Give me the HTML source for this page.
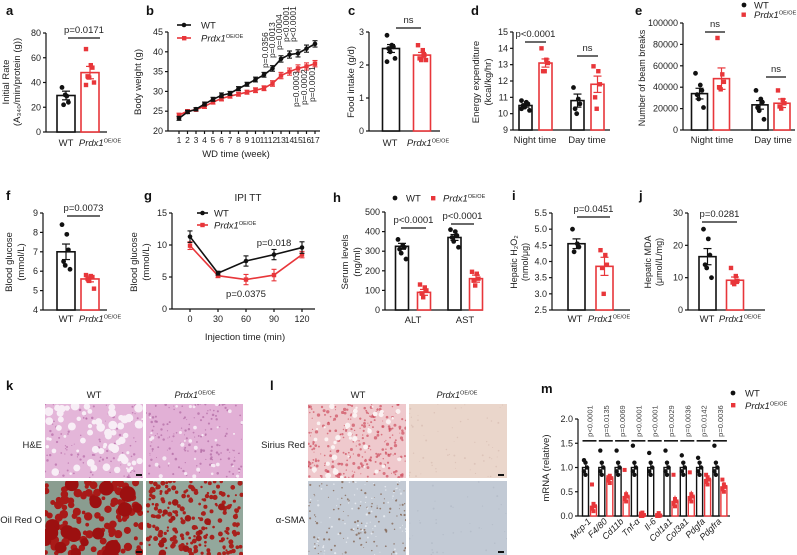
<!DOCTYPE html>
<html><head><meta charset="utf-8"><style>
html,body{margin:0;padding:0;background:#fff;}
svg{display:block;font-family:"Liberation Sans",Arial,sans-serif;}
</style></head><body>
<svg id="fig" width="797" height="555" viewBox="0 0 797 555" xmlns="http://www.w3.org/2000/svg"></svg>
<script>
// ---------- data ----------
const aMeans=[29.5,48]; const aSem=[3.5,5];
const aWT=[36,29,24,22,30]; const aKO=[67,54,52,45,44,40,38];
const bWeeks=[1,2,3,4,5,6,7,8,9,10,11,12,13,14,15,16,17];
const bWT=[23.2,24.8,25.5,26.8,28,29,29.5,30.7,31.8,33,34.2,35.8,38.2,39.3,39.6,40.8,42];
const bKO=[24,25,25.4,26.2,27.3,28.2,28.8,29.3,29.8,30.3,30.8,32,34,35,35.8,36.3,37];
const bErr=[0.5,0.4,0.4,0.5,0.5,0.6,0.5,0.5,0.5,0.6,0.6,0.7,0.8,0.9,0.9,0.9,0.8];
const bPblack=["p=0.0356","p=0.0013","p=0.0004","p<0.0001","p<0.0001"];
const bPred=["p=0.0003","p=0.0002","p=0.0001"];
const cMeans=[2.5,2.3]; const cSem=[0.12,0.08];
const cWT=[2.9,2.6,2.55,2.5,2.4,2.2,2.1]; const cKO=[2.6,2.45,2.3,2.2,2.15,2.15];
const dMeans=[10.5,13.1,10.8,11.8]; const dSem=[0.1,0.25,0.4,0.5];
const dPts=[[10.8,10.7,10.6,10.5,10.4,10.2,10.3],[14.0,13.3,13.1,12.6,12.6],[11.6,10.9,10.6,10.3,10.0],[12.9,12.6,11.8,11.0,10.3]];
const eMeans=[34000,48000,23500,25000]; const eSem=[5000,10000,4000,4000];
const ePts=[[53000,42000,37000,33000,29000,21000],[86000,52000,45000,40000,38000],[37000,29000,26000,21000,18000,10000],[37000,28000,25000,22000,20000]];
const fMeans=[7.0,5.6]; const fSem=[0.4,0.15];
const fWT=[8.4,7.9,7.1,6.5,6.3,6.1]; const fKO=[5.8,5.75,5.7,5.6,5.5,5.1];
const gTimes=[0,30,60,90,120];
const gWT=[11.3,5.6,7.5,8.5,9.6]; const gKO=[9.9,5.2,4.6,5.3,8.5];
const gWTerr=[0.9,0.3,0.8,0.8,0.9]; const gKOerr=[0.6,0.3,0.8,0.9,0.5];
const hMeans=[325,90,370,160]; const hSem=[15,15,15,18];
const hPts=[[360,330,320,310,290,260],[130,115,100,85,65],[410,400,380,370,350,320],[195,185,160,150,125]];
const iMeans=[4.55,3.85]; const iSem=[0.15,0.28];
const iWT=[5.0,4.55,4.45,4.3]; const iKO=[4.35,4.2,3.9,3.8,3.0];
const jMeans=[16.5,9.2]; const jSem=[2.5,1];
const jWT=[25,22,17,14,13,10]; const jKO=[13,10.5,9,8.5,8];
const mGenes=["Mcp-1","F4/80","Cd11b","Tnf-α","Il-6","Col1a1","Col3a1","Pdgfa","Pdgfra"];
const mP=["p<0.0001","p=0.0135","p=0.0069","p<0.0001","p<0.0001","p=0.0029","p=0.0036","p=0.0142","p=0.0036"];
const mWTmean=[1.0,1.0,1.0,1.0,1.0,1.0,1.0,1.0,1.0];
const mKOmean=[0.2,0.78,0.4,0.02,0.01,0.3,0.4,0.75,0.6];
const mWTsem=[0.05,0.1,0.1,0.1,0.1,0.1,0.1,0.1,0.1];
const mKOsem=[0.08,0.06,0.12,0.01,0.005,0.12,0.12,0.08,0.1];
const mWTmax=[1.15,1.35,1.35,1.45,1.3,1.35,1.25,1.2,1.45];
const mKOmax=[0.65,0.8,0.95,0.05,0.02,0.85,0.9,0.85,0.75];

// ---------- helpers ----------
const NS="http://www.w3.org/2000/svg";
const svg=document.getElementById('fig');
const RED="#e8363a";
function mk(tag,attrs,name,parent){
  const e=document.createElementNS(NS,tag);
  for(const k in attrs) e.setAttribute(k,attrs[k]);
  
  
  (parent||svg).appendChild(e);
  return e;
}
function txt(x,y,s,name,o){
  o=o||{};
  const t=mk('text',{x:x,y:y,'font-size':o.fs||9,'text-anchor':o.anchor||'middle',fill:o.fill||'#222','font-weight':o.fw||'normal','font-style':o.fi||'normal'},name);
  if(o.rot!==undefined) t.setAttribute('transform','rotate('+o.rot+' '+x+' '+y+')');
  t.textContent=s;
  return t;
}
function prdx(x,y,name,o){
  o=o||{};
  const t=mk('text',{x:x,y:y,'font-size':o.fs||9.5,'text-anchor':o.anchor||'middle',fill:'#222'},name);
  const a=mk('tspan',{'font-style':'italic'},name+'-gene',t); a.textContent='Prdx1';
  const b=mk('tspan',{'font-size':5.5,dy:-3.5},name+'-sup',t); b.textContent='OE/OE';
  return t;
}
function line(x1,y1,x2,y2,name,c,w){return mk('line',{x1:x1,y1:y1,x2:x2,y2:y2,stroke:c||'#111','stroke-width':w||1.2},name);}
function letter(x,y,s){txt(x,y,s,'panel-label-'+s,{fs:13,fw:'bold',anchor:'start',fill:'#111'});}
function scale(v0,v1,p0,p1){return v=>p0+(v-v0)*(p1-p0)/(v1-v0);}
function axes(ax,xEnd,yTop,yBot,ticks,sy,fmt,pfx){
  line(ax,yTop,ax,yBot,pfx+'-y-axis');
  line(ax,yBot,xEnd,yBot,pfx+'-x-axis');
  ticks.forEach(t=>{const y=sy(t);line(ax-3,y,ax,y,pfx+'-y-tick');txt(ax-5,y+3,fmt?fmt(t):String(t),pfx+'-y-tick-label',{anchor:'end',fs:9});});
}
function bar(cx,w,mean,sem,sy,yBot,color,pts,pfx,isSq){
  mk('rect',{x:cx-w/2,y:sy(mean),width:w,height:yBot-sy(mean),fill:'#fff',stroke:color,'stroke-width':1.6},pfx+'-bar');
  line(cx,sy(mean+sem),cx,sy(mean-sem),pfx+'-error-bar',color,1.2);
  line(cx-4,sy(mean+sem),cx+4,sy(mean+sem),pfx+'-error-cap',color,1.2);
  line(cx-4,sy(mean-sem),cx+4,sy(mean-sem),pfx+'-error-cap',color,1.2);
  pts.forEach((v,i)=>{
    const dx=((i%3)-1)*3.2+(i%2?1:-1)*0.8;
    if(isSq) mk('rect',{x:cx+dx-2.2,y:sy(v)-2.2,width:4.4,height:4.4,fill:color},pfx+'-point');
    else mk('circle',{cx:cx+dx,cy:sy(v),r:2.4,fill:color},pfx+'-point');
  });
}
function sig(x1,x2,y,label,name){line(x1,y,x2,y,name+'-line');txt((x1+x2)/2,y-5,label,name,{fs:9.5});}

// ---------- panel a ----------
letter(6,15,'a');
let sy=scale(0,80,132,33);
axes(46,107,33,132,[0,20,40,60,80],sy,null,'a');
bar(66,18,aMeans[0],aSem[0],sy,132,'#111',aWT,'a-wt',false);
bar(90,18,aMeans[1],aSem[1],sy,132,RED,aKO,'a-prdx1',true);
sig(68,100,38,'p=0.0171','a-pvalue');
txt(66,146,'WT','a-x-label-wt',{fs:9.5}); prdx(100,146,'a-x-label-prdx1');
txt(9,82,'Initial Rate','a-y-title',{rot:-90,fs:9.5});
txt(20,82,'(A₃₄₀/min/protein (g))','a-y-title-unit',{rot:-90,fs:9.5});

// ---------- panel b ----------
letter(146,15,'b');
sy=scale(20,45,131,32);
const sxb=scale(1,17,179,315);
axes(168,320,32,131,[20,25,30,35,40,45],sy,null,'b');
bWeeks.forEach(w=>{line(sxb(w),131,sxb(w),134,'b-x-tick');txt(sxb(w),143,String(w),'b-x-tick-label',{fs:8.5});});
function series(xs,ys,errs,sx,sy,color,pfx,sq){
  mk('polyline',{points:xs.map((x,i)=>sx(x)+','+sy(ys[i])).join(' '),fill:'none',stroke:color,'stroke-width':1.6},pfx+'-line');
  xs.forEach((x,i)=>{
    const X=sx(x);
    line(X,sy(ys[i]+errs[i]),X,sy(ys[i]-errs[i]),pfx+'-error-bar',color,1.1);
    line(X-2.5,sy(ys[i]+errs[i]),X+2.5,sy(ys[i]+errs[i]),pfx+'-error-cap',color,1.1);
    line(X-2.5,sy(ys[i]-errs[i]),X+2.5,sy(ys[i]-errs[i]),pfx+'-error-cap',color,1.1);
    if(sq) mk('rect',{x:X-2.2,y:sy(ys[i])-2.2,width:4.4,height:4.4,fill:color},pfx+'-point');
    else mk('circle',{cx:X,cy:sy(ys[i]),r:2.3,fill:color},pfx+'-point');
  });
}
series(bWeeks,bKO,bErr,sxb,sy,RED,'b-prdx1',true);
series(bWeeks,bWT,bErr,sxb,sy,'#111','b-wt',false);
const bpx=[268,275,282,289,296]; const bpy=[68,58,50,42,42];
bPblack.forEach((p,i)=>txt(bpx[i],bpy[i],p,'b-pvalue-wt',{rot:-90,anchor:'start',fs:8.5}));
const rpx=[299,307,315]; const rpy=[107,105,102];
bPred.forEach((p,i)=>txt(rpx[i],rpy[i],p,'b-pvalue-prdx1',{rot:-90,anchor:'start',fs:8.5}));
line(177,25,191,25,'b-legend-wt-line','#111',1.6); mk('circle',{cx:184,cy:25,r:2.3,fill:'#111'},'b-legend-wt-marker');
txt(201,28.5,'WT','b-legend-wt',{anchor:'start',fs:9.5});
line(177,38,191,38,'b-legend-prdx1-line',RED,1.6); mk('rect',{x:182,y:36,width:4.4,height:4.4,fill:RED},'b-legend-prdx1-marker');
prdx(201,41.5,'b-legend-prdx1',{anchor:'start'});
txt(236,157,'WD time (week)','b-x-title',{fs:9.5});
txt(141,82,'Body weight (g)','b-y-title',{rot:-90,fs:9.5});

// ---------- panel c ----------
letter(348,15,'c');
sy=scale(0,3,131,32);
axes(369,440,32,131,[0,1,2,3],sy,null,'c');
bar(391,17,cMeans[0],cSem[0],sy,131,'#111',cWT,'c-wt',false);
bar(422,17,cMeans[1],cSem[1],sy,131,RED,cKO,'c-prdx1',true);
sig(396,421,28,'ns','c-pvalue');
txt(390,146,'WT','c-x-label-wt',{fs:9.5}); prdx(428,146,'c-x-label-prdx1');
txt(354,82,'Food intake (g/d)','c-y-title',{rot:-90,fs:9.5});

// ---------- panel d ----------
letter(471,15,'d');
sy=scale(9,15,130,32);
axes(513,610,32,130,[9,10,11,12,13,14,15],sy,null,'d');
const dCx=[525.5,545.5,577.5,597.5];
dCx.forEach((cx,i)=>bar(cx,13,dMeans[i],dSem[i],sy,130,i%2?RED:'#111',dPts[i],i%2?'d-prdx1':'d-wt',i%2==1));
sig(525,546,42,'p<0.0001','d-pvalue-night'); sig(577,598,56,'ns','d-pvalue-day');
txt(535,143,'Night time','d-x-label-night',{fs:9.5}); txt(587,143,'Day time','d-x-label-day',{fs:9.5});
txt(479,82,'Energy expenditure','d-y-title',{rot:-90,fs:9.5});
txt(491,82,'(kcal/kg/hr)','d-y-title-unit',{rot:-90,fs:9.5});

// ---------- panel e ----------
letter(635,15,'e');
sy=scale(0,100000,130,23);
axes(683,795,23,130,[0,20000,40000,60000,80000,100000],sy,null,'e');
const eCx=[699.5,721.5,760,782];
eCx.forEach((cx,i)=>bar(cx,16,eMeans[i],eSem[i],sy,130,i%2?RED:'#111',ePts[i],i%2?'e-prdx1':'e-wt',i%2==1));
sig(705,725,32,'ns','e-pvalue-night'); sig(766,786,77,'ns','e-pvalue-day');
txt(712,143,'Night time','e-x-label-night',{fs:9.5}); txt(773,143,'Day time','e-x-label-day',{fs:9.5});
txt(645,78,'Number of beam breaks','e-y-title',{rot:-90,fs:9});
mk('circle',{cx:744,cy:5,r:2.4,fill:'#111'},'e-legend-wt-marker'); txt(754,8.5,'WT','e-legend-wt',{anchor:'start',fs:9.5});
mk('rect',{x:741.5,y:12.5,width:4.4,height:4.4,fill:RED},'e-legend-prdx1-marker'); prdx(754,18,'e-legend-prdx1',{anchor:'start'});

// ---------- panel f ----------
letter(6,200,'f');
sy=scale(4,9,310,213);
axes(43,107,213,310,[4,5,6,7,8,9],sy,null,'f');
bar(66,18,fMeans[0],fSem[0],sy,310,'#111',fWT,'f-wt',false);
bar(90,18,fMeans[1],fSem[1],sy,310,RED,fKO,'f-prdx1',true);
sig(67,100,216,'p=0.0073','f-pvalue');
txt(66,322,'WT','f-x-label-wt',{fs:9.5}); prdx(100,322,'f-x-label-prdx1');
txt(12,262,'Blood glucose','f-y-title',{rot:-90,fs:9.5});
txt(24,262,'(mmol/L)','f-y-title-unit',{rot:-90,fs:9.5});

// ---------- panel g ----------
letter(144,200,'g');
txt(248,201,'IPI TT','g-title',{fs:10});
sy=scale(0,15,309,213);
const sxg=scale(0,120,190,302);
axes(172,315,213,309,[0,5,10,15],sy,null,'g');
gTimes.forEach(t=>{line(sxg(t),309,sxg(t),312,'g-x-tick');txt(sxg(t),322,String(t),'g-x-tick-label',{fs:9});});
series(gTimes,gKO,gKOerr,sxg,sy,RED,'g-prdx1',true);
series(gTimes,gWT,gWTerr,sxg,sy,'#111','g-wt',false);
txt(274,246,'p=0.018','g-pvalue-90',{fs:9.5}); txt(246,297,'p=0.0375','g-pvalue-60',{fs:9.5});
line(197,213,208,213,'g-legend-wt-line','#111',1.6); mk('circle',{cx:202.5,cy:213,r:2.3,fill:'#111'},'g-legend-wt-marker');
txt(214,216.5,'WT','g-legend-wt',{anchor:'start',fs:9.5});
line(197,225,208,225,'g-legend-prdx1-line',RED,1.6); mk('rect',{x:200.3,y:222.8,width:4.4,height:4.4,fill:RED},'g-legend-prdx1-marker');
prdx(214,228.5,'g-legend-prdx1',{anchor:'start'});
txt(245,340,'Injection time (min)','g-x-title',{fs:9.5});
txt(137,262,'Blood glucose','g-y-title',{rot:-90,fs:9.5});
txt(149,262,'(mmol/L)','g-y-title-unit',{rot:-90,fs:9.5});

// ---------- panel h ----------
letter(333,202,'h');
sy=scale(0,500,310,212);
axes(385,483,212,310,[0,100,200,300,400,500],sy,null,'h');
const hCx=[402,424,454.5,476];
hCx.forEach((cx,i)=>bar(cx,13,hMeans[i],hSem[i],sy,310,i%2?RED:'#111',hPts[i],i%2?'h-prdx1':'h-wt',i%2==1));
sig(401,426,228,'p<0.0001','h-pvalue-alt'); sig(451,474,224,'p<0.0001','h-pvalue-ast');
txt(413,323,'ALT','h-x-label-alt',{fs:9.5}); txt(465,323,'AST','h-x-label-ast',{fs:9.5});
txt(348,262,'Serum levels','h-y-title',{rot:-90,fs:9.5});
txt(360,262,'(ng/ml)','h-y-title-unit',{rot:-90,fs:9.5});
mk('circle',{cx:395,cy:198,r:2.4,fill:'#111'},'h-legend-wt-marker'); txt(406,201.5,'WT','h-legend-wt',{anchor:'start',fs:9.5});
mk('rect',{x:431,y:196,width:4.4,height:4.4,fill:RED},'h-legend-prdx1-marker'); prdx(443,201.5,'h-legend-prdx1',{anchor:'start'});

// ---------- panel i ----------
letter(512,200,'i');
sy=scale(2.5,5.5,310,213);
axes(552,630,213,310,[2.5,3.0,3.5,4.0,4.5,5.0,5.5],sy,v=>v.toFixed(1),'i');
bar(576.5,17,iMeans[0],iSem[0],sy,310,'#111',iWT,'i-wt',false);
bar(604.5,17,iMeans[1],iSem[1],sy,310,RED,iKO,'i-prdx1',true);
sig(577,610,217,'p=0.0451','i-pvalue');
txt(575,322,'WT','i-x-label-wt',{fs:9.5}); prdx(609,322,'i-x-label-prdx1');
txt(517,262,'Hepatic H₂O₂','i-y-title',{rot:-90,fs:9});
txt(528,262,'(nmol/μg)','i-y-title-unit',{rot:-90,fs:9});

// ---------- panel j ----------
letter(639,200,'j');
sy=scale(0,30,310,213);
axes(688,765,213,310,[0,10,20,30],sy,null,'j');
bar(707.5,17,jMeans[0],jSem[0],sy,310,'#111',jWT,'j-wt',false);
bar(735,17,jMeans[1],jSem[1],sy,310,RED,jKO,'j-prdx1',true);
sig(702,737,222,'p=0.0281','j-pvalue');
txt(707,322,'WT','j-x-label-wt',{fs:9.5}); prdx(740,322,'j-x-label-prdx1');
txt(651,262,'Hepatic MDA','j-y-title',{rot:-90,fs:9});
txt(662,262,'(μmol/L/mg)','j-y-title-unit',{rot:-90,fs:9});

// ---------- histology images ----------
let seed=7; function rnd(){seed=(seed*16807)%2147483647;return seed/2147483647;}
function tissue(x,y,w,h,bg,spots,name){
  const g=mk('g',{},name);
  const cid='clip'+name;
  const cp=mk('clipPath',{id:cid},name+'-clip',g);
  mk('rect',{x:x,y:y,width:w,height:h},name+'-clip-rect',cp);
  const inner=mk('g',{'clip-path':'url(#'+cid+')'},name+'-content',g);
  mk('rect',{x:x,y:y,width:w,height:h,fill:bg},name+'-background',inner);
  spots.forEach(s=>{for(let i=0;i<s.n;i++){
    const r=s.r0+rnd()*s.r1;
    mk('circle',{cx:x+rnd()*w,cy:y+rnd()*h,r:r,fill:s.c,opacity:s.o||1},name+'-texture',inner);
  }});
  return g;
}
const r1y=404,r1h=74,r2y=481,r2h=74;
tissue(45,r1y,98,r1h,'#e4b6d9',[{n:120,r0:0.5,r1:0.8,c:'#b56aa6',o:0.7},{n:70,r0:1,r1:3.5,c:'#f8eef6'}],'he-wt-image');
tissue(146,r1y,97,r1h,'#e2b0d6',[{n:160,r0:0.5,r1:0.8,c:'#b06aa3',o:0.7},{n:35,r0:0.8,r1:1.5,c:'#f6e8f3'}],'he-prdx1-image');
tissue(45,r2y,98,r2h,'#8a9d90',[{n:120,r0:1.8,r1:2.5,c:'#a81a18'},{n:18,r0:4,r1:4,c:'#9c1010'}],'oilredo-wt-image');
tissue(146,r2y,97,r2h,'#93a89c',[{n:200,r0:1.0,r1:1.6,c:'#a8201c'},{n:12,r0:2.5,r1:1.5,c:'#a01816'}],'oilredo-prdx1-image');
tissue(308,r1y,98,r1h,'#efc9cd',[{n:260,r0:0.5,r1:1.2,c:'#c83a4c',o:0.6},{n:40,r0:1,r1:2,c:'#fbf2f2'}],'siriusred-wt-image');
tissue(409,r1y,98,r1h,'#ead6cb',[{n:60,r0:0.4,r1:0.6,c:'#d4b8ae',o:0.6}],'siriusred-prdx1-image');
tissue(308,r2y,98,r2h,'#c3cad4',[{n:120,r0:0.4,r1:0.8,c:'#7c5a44',o:0.7},{n:80,r0:0.4,r1:0.8,c:'#e4e8ee'}],'asma-wt-image');
tissue(409,r2y,98,r2h,'#c2cad5',[{n:40,r0:0.4,r1:0.6,c:'#adb6c3',o:0.6}],'asma-prdx1-image');
[[136,474],[136,551],[498,474],[498,551]].forEach(p=>mk('rect',{x:p[0],y:p[1],width:6,height:2,fill:'#111'},'scale-bar'));
letter(6,390,'k'); letter(270,390,'l');
txt(94,398,'WT','k-col-wt',{fs:9.5}); prdx(195,398,'k-col-prdx1',{fs:9});
txt(42,448,'H&E','k-row-he',{anchor:'end',fs:9.5}); txt(42,523,'Oil Red O','k-row-oilredo',{anchor:'end',fs:9.5});
txt(358,398,'WT','l-col-wt',{fs:9.5}); prdx(457,398,'l-col-prdx1',{fs:9});
txt(305,448,'Sirius Red','l-row-siriusred',{anchor:'end',fs:9.5}); txt(305,523,'α-SMA','l-row-asma',{anchor:'end',fs:9.5});

// ---------- panel m ----------
letter(541,393,'m');
sy=scale(0,2,516,419);
axes(578,730,419,516,[0,0.5,1.0,1.5,2.0],sy,v=>v.toFixed(1),'m');
const sxm=i=>589.5+i*16.3;
mGenes.forEach((g,i)=>{
  const cx=sxm(i);
  const wp=[mWTmax[i],mWTmean[i]+0.1,mWTmean[i],mWTmean[i]-0.08,mWTmean[i]-0.15];
  const kp=[mKOmax[i],mKOmean[i]+0.05,mKOmean[i],Math.max(0,mKOmean[i]-0.05),Math.max(0,mKOmean[i]-0.1)];
  mk('rect',{x:cx-7,y:sy(mWTmean[i]),width:6,height:516-sy(mWTmean[i]),fill:'#fff',stroke:'#111','stroke-width':1.4},'m-wt-bar');
  line(cx-4,sy(mWTmean[i]+mWTsem[i]),cx-4,sy(mWTmean[i]-mWTsem[i]),'m-wt-error-bar','#111',1);
  wp.forEach((v,k)=>mk('circle',{cx:cx-4+((k%3)-1)*1.5,cy:sy(v),r:2.2,fill:'#111'},'m-wt-point'));
  mk('rect',{x:cx+1,y:sy(mKOmean[i]),width:6,height:Math.max(0.5,516-sy(mKOmean[i])),fill:'#fff',stroke:RED,'stroke-width':1.4},'m-prdx1-bar');
  line(cx+4,sy(mKOmean[i]+mKOsem[i]),cx+4,sy(mKOmean[i]-mKOsem[i]),'m-prdx1-error-bar',RED,1);
  kp.forEach((v,k)=>mk('rect',{x:cx+2+((k%3)-1)*1.5,y:sy(v)-2,width:4,height:4,fill:RED},'m-prdx1-point'));
  line(cx-7,sy(1.55),cx+7,sy(1.55),'m-sig-line','#111',1.6);
  txt(cx+3,sy(1.55)-4,mP[i],'m-pvalue',{rot:-90,anchor:'start',fs:7.5,fill:'#444'});
  txt(cx+2,522,g,'m-gene-label',{rot:-45,anchor:'end',fs:9,fi:'italic'});
});
txt(549,468,'mRNA (relative)','m-y-title',{rot:-90,fs:9.5});
mk('circle',{cx:733,cy:393,r:2.4,fill:'#111'},'m-legend-wt-marker'); txt(745,396.5,'WT','m-legend-wt',{anchor:'start',fs:9.5});
mk('rect',{x:731,y:403,width:4.4,height:4.4,fill:RED},'m-legend-prdx1-marker'); prdx(745,409,'m-legend-prdx1',{anchor:'start'});
</script>
</body></html>
